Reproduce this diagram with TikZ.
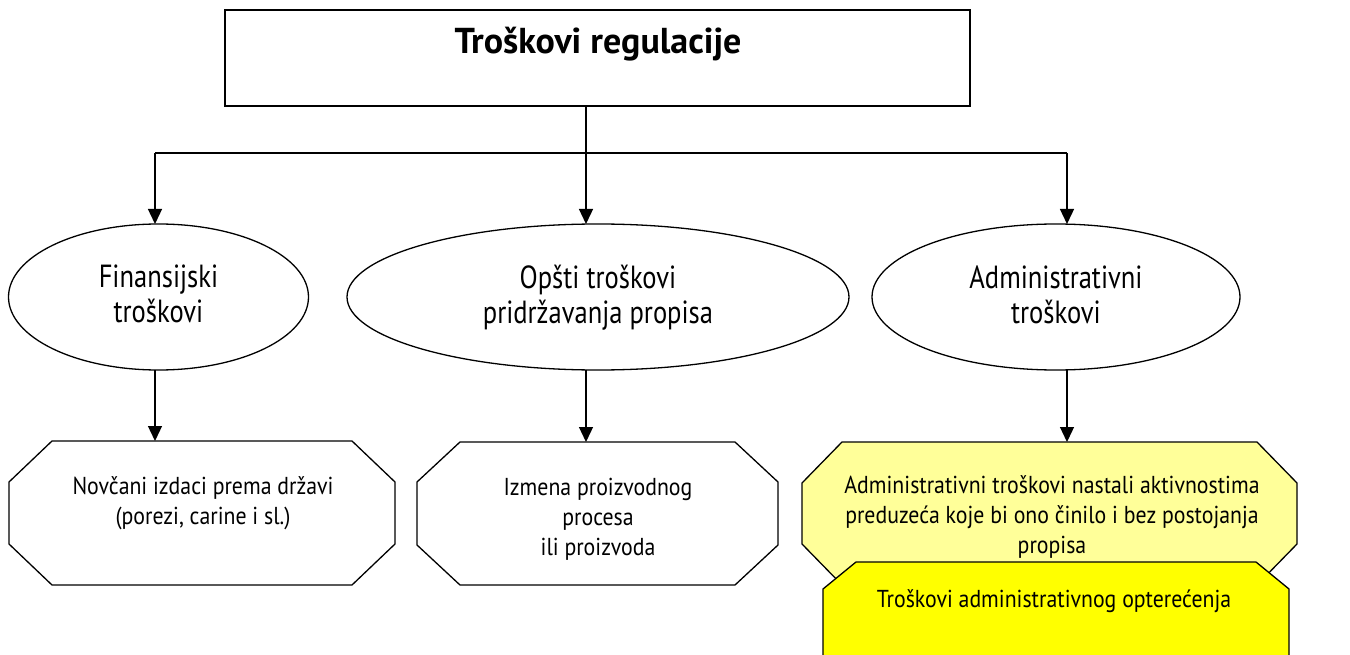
\documentclass[tikz,border=0pt]{standalone}
\usepackage{fontspec}
\setmainfont{PT Sans}
\newfontfamily\octfont{PT Sans}[FakeStretch=0.89]
\newfontfamily\ellfont{PT Sans}[FakeStretch=0.83]
\usetikzlibrary{shapes.geometric,arrows.meta}
\definecolor{lightyel}{HTML}{FFFF99}
\definecolor{fullyel}{HTML}{FFFF00}
\newcommand\octa[4]{%
  \filldraw[line width=1.3pt, fill=#4, line join=miter]
    ([xshift=#2]#1.north west) -- ([xshift=-#2]#1.north east) --
    ([yshift=-#3]#1.north east) -- ([yshift=#3]#1.south east) --
    ([xshift=-#2]#1.south east) -- ([xshift=#2]#1.south west) --
    ([yshift=#3]#1.south west) -- ([yshift=-#3]#1.north west) -- cycle;}
\tikzset{
  area/.style={rectangle, inner sep=0pt, outer sep=0pt},
  ell/.style={ellipse, draw, line width=1.3pt, inner sep=0pt, outer sep=0pt},
  elltxt/.style={align=center, font=\ellfont\fontsize{32}{35}\selectfont},
  octtxt/.style={align=center, font=\octfont\fontsize{24.5}{30}\selectfont},
  conn/.style={line width=1.3pt},
  arr/.style={line width=1.3pt, -{Triangle[length=15pt,width=14pt]}}
}
\begin{document}
\begin{tikzpicture}[x=1pt, y=-1pt]
\useasboundingbox (0,0) rectangle (1350,655);
\clip (0,0) rectangle (1350,655);
% title
\node[area, draw, line width=1.3pt, minimum width=745pt, minimum height=96pt] (title) at (597.5,58) {};
\node[font=\fontsize{36}{40}\selectfont\bfseries] (titletxt) at (598,44) {Troškovi regulacije};
% ellipses
\node[ell, minimum width=300pt, minimum height=146pt] (e1) at (158.5,297) {};
\node[elltxt] (e1t) at (158.5,294) {Finansijski\\troškovi};
\node[ell, minimum width=502pt, minimum height=146pt] (e2) at (598,297) {};
\node[elltxt] (e2t) at (598,298) {Opšti troškovi\\pridržavanja propisa};
\node[ell, minimum width=368pt, minimum height=146pt] (e3) at (1056,297) {};
\node[elltxt] (e3t) at (1056,295) {Administrativni\\troškovi};
% octagons
\node[area, minimum width=386pt, minimum height=144pt] (o1) at (202,513) {};
\octa{o1}{43pt}{41pt}{white}
\node[octtxt] (o1t) at (203,503) {Novčani izdaci prema državi\\(porezi, carine i sl.)};
\node[area, minimum width=361pt, minimum height=143pt] (o2) at (597.5,513.5) {};
\octa{o2}{43pt}{40pt}{white}
\node[octtxt] (o2t) at (598,519) {Izmena proizvodnog\\procesa\\ili proizvoda};
\node[area, minimum width=495pt, minimum height=143pt] (o3) at (1049.5,513.5) {};
\octa{o3}{40pt}{41pt}{lightyel}
\node[octtxt] (o3t) at (1052,517) {Administrativni troškovi nastali aktivnostima\\preduzeća koje bi ono činilo i bez postojanja\\propisa};
\node[area, minimum width=466pt, minimum height=130pt] (o4) at (1056,627) {};
\octa{o4}{33pt}{27pt}{fullyel}
\node[octtxt] (o4t) at (1054,601) {Troškovi administrativnog opterećenja};
% connectors
\coordinate (hl) at (155,153);
\coordinate (hm) at (586,153);
\coordinate (hr) at (1067,153);
\draw[conn] (title.south -| hm) -- (hm);
\draw[conn] (hl) -- (hr);
\draw[arr] (hl) -- (hl |- e1.north);
\draw[arr] (hm) -- (hm |- e2.north);
\draw[arr] (hr) -- (hr |- e3.north);
\draw[arr] (e1.south -| hl) -- (hl |- o1.north);
\draw[arr] (e2.south -| hm) -- (hm |- o2.north);
\draw[arr] (e3.south -| hr) -- (hr |- o3.north);
\end{tikzpicture}
\end{document}
